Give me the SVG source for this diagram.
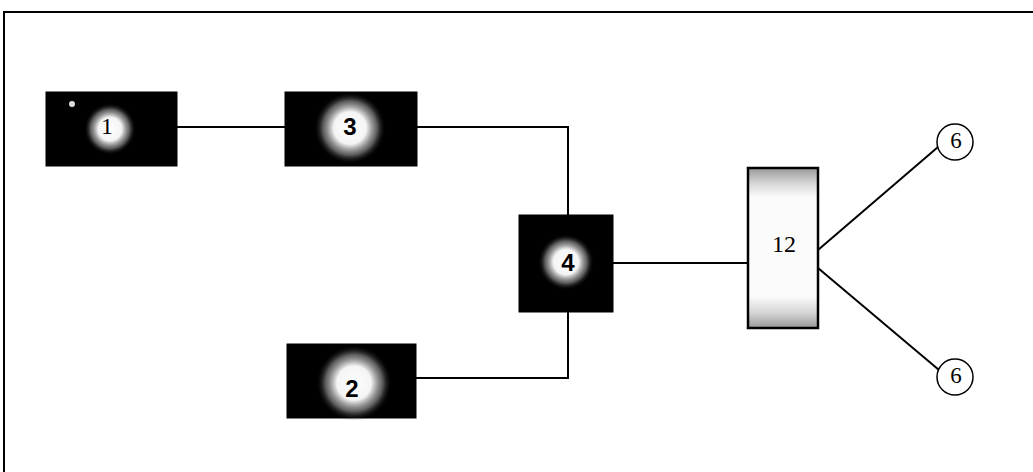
<svg xmlns="http://www.w3.org/2000/svg" width="1033" height="472" viewBox="0 0 1033 472">
<style>
.frame{fill:none;stroke:#000;stroke-width:2}
.box{fill:#000;stroke:#000;stroke-width:1}
.glow{fill:url(#glow)}
.lbl{font-family:"Liberation Sans",Arial,sans-serif;font-weight:bold;font-size:24px;fill:#000;text-anchor:middle;dominant-baseline:central}
.serif{font-family:"Liberation Serif","Times New Roman",serif}
.wire{fill:none;stroke:#000;stroke-width:2}
.circ{fill:#fff;stroke:#000;stroke-width:1.5}
</style>
<defs>
<radialGradient id="glow">
<stop offset="0" stop-color="#fff" stop-opacity="1"/>
<stop offset="0.45" stop-color="#f4f4f4" stop-opacity="1"/>
<stop offset="0.75" stop-color="#aaa" stop-opacity="0.55"/>
<stop offset="1" stop-color="#000" stop-opacity="0"/>
</radialGradient>
<linearGradient id="stip" x1="0" y1="0" x2="0" y2="1">
<stop offset="0" stop-color="#999"/>
<stop offset="0.1" stop-color="#d8d8d8"/>
<stop offset="0.18" stop-color="#fbfbfb"/>
<stop offset="0.8" stop-color="#fbfbfb"/>
<stop offset="0.9" stop-color="#d8d8d8"/>
<stop offset="1" stop-color="#999"/>
</linearGradient>
</defs>
<rect width="1033" height="472" fill="#fff"/>
<path class="frame" d="M4,472 V12 H1033"/>
<g id="connectors">
<path class="wire" d="M177,127 H285"/>
<path class="wire" d="M417,127 H568 V215"/>
<path class="wire" d="M416,378 H568 V312"/>
<path class="wire" d="M613,263 H748"/>
<path class="wire" d="M818,250 L938,147"/>
<path class="wire" d="M818,268 L939,370"/>
</g>
<g id="node1">
<rect class="box" x="46" y="92" width="131" height="74"/>
<circle class="glow" cx="110" cy="129" r="26"/>
<circle cx="72" cy="104" r="3" fill="#ddd"/>
<text class="lbl serif" x="107" y="126" style="font-weight:normal">1</text>
</g>
<g id="node3">
<rect class="box" x="285" y="92" width="132" height="74"/>
<circle class="glow" cx="350" cy="128" r="36"/>
<text class="lbl" x="350" y="126">3</text>
</g>
<g id="node4">
<rect class="box" x="519" y="215" width="94" height="97"/>
<circle class="glow" cx="566" cy="262" r="28"/>
<text class="lbl" x="568" y="262">4</text>
</g>
<g id="node2">
<rect class="box" x="287" y="344" width="129" height="74"/>
<circle class="glow" cx="354" cy="383" r="38"/>
<text class="lbl" x="352" y="388">2</text>
</g>
<g id="node12">
<rect x="748" y="168" width="70" height="160" fill="url(#stip)" stroke="#000" stroke-width="2.5"/>
<text class="lbl serif" x="784" y="244" style="font-weight:normal">12</text>
</g>
<g id="node6a">
<circle class="circ" cx="955" cy="142" r="18"/>
<text class="lbl serif" x="956" y="140" style="font-size:23px;font-weight:normal">6</text>
</g>
<g id="node6b">
<circle class="circ" cx="955" cy="377" r="18"/>
<text class="lbl serif" x="956" y="375" style="font-size:23px;font-weight:normal">6</text>
</g>
</svg>
